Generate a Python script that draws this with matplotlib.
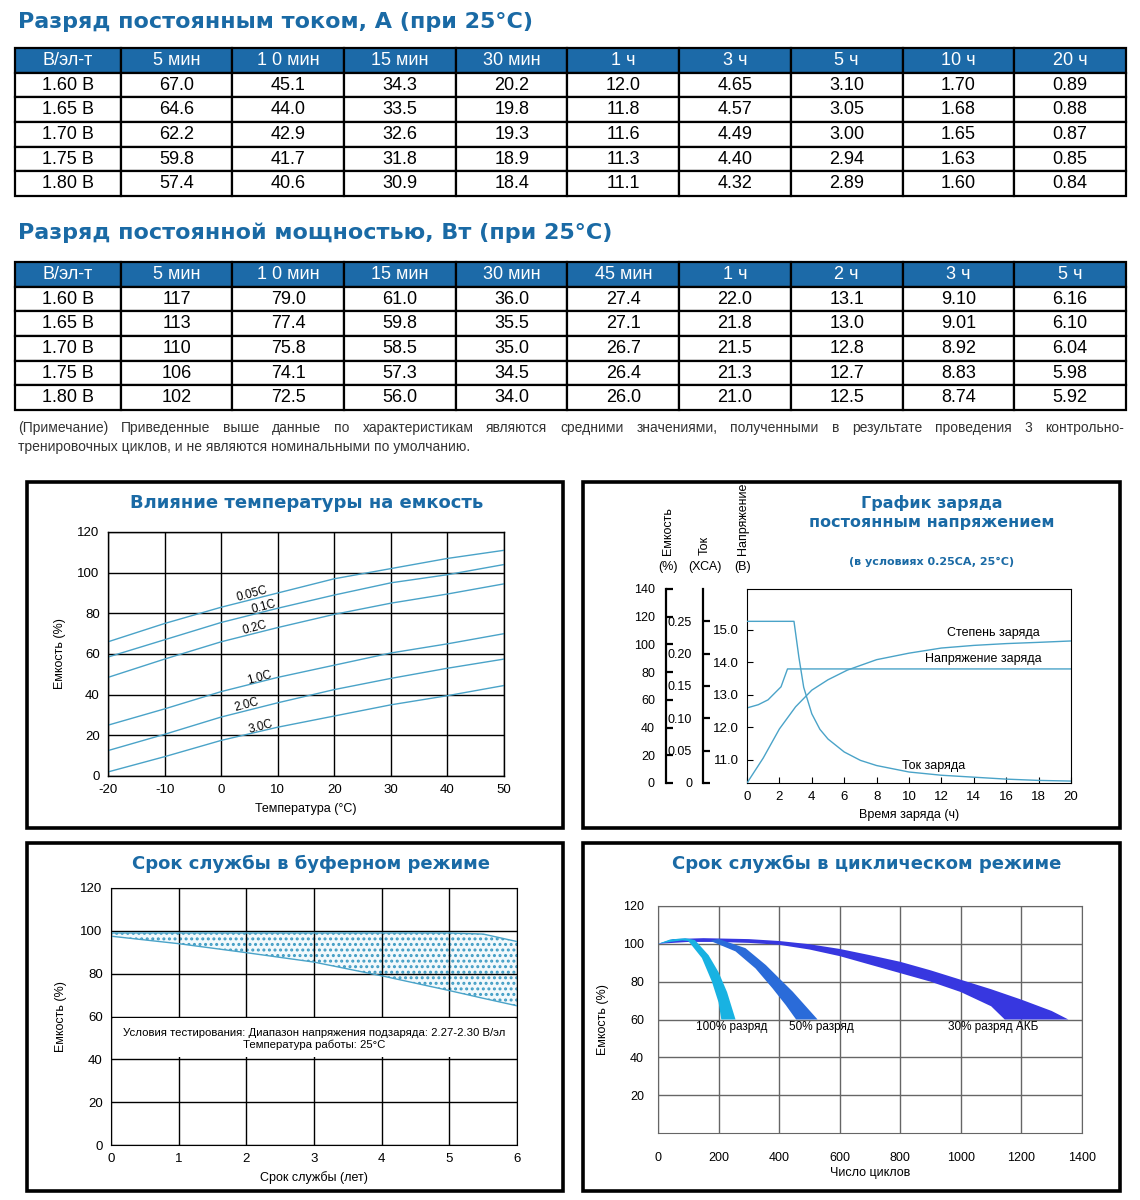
import numpy as np
import matplotlib
matplotlib.use("Agg")
import matplotlib.pyplot as plt
from matplotlib.patches import Rectangle

plt.rcParams['font.family'] = ['Liberation Sans', 'DejaVu Sans']
plt.rcParams['axes.unicode_minus'] = False
plt.rcParams['hatch.linewidth'] = 1.4

W, H = 1140, 1200
TITLE_BLUE = '#1a6aa5'
HEAD_BLUE = '#1c6aa8'
LINE_BLUE = '#4aa3c8'
HEAVY = dict(family=['DejaVu Sans'], fontweight='bold', color=TITLE_BLUE)

# ---------------- table data ----------------
volt_rows = ['1.60 В', '1.65 В', '1.70 В', '1.75 В', '1.80 В']

cur_cols = ['В/эл-т', '5 мин', '1 0 мин', '15 мин', '30 мин', '1 ч', '3 ч', '5 ч', '10 ч', '20 ч']
cur_5m = ['67.0', '64.6', '62.2', '59.8', '57.4']
cur_10m = ['45.1', '44.0', '42.9', '41.7', '40.6']
cur_15m = ['34.3', '33.5', '32.6', '31.8', '30.9']
cur_30m = ['20.2', '19.8', '19.3', '18.9', '18.4']
cur_1h = ['12.0', '11.8', '11.6', '11.3', '11.1']
cur_3h = ['4.65', '4.57', '4.49', '4.40', '4.32']
cur_5h = ['3.10', '3.05', '3.00', '2.94', '2.89']
cur_10h = ['1.70', '1.68', '1.65', '1.63', '1.60']
cur_20h = ['0.89', '0.88', '0.87', '0.85', '0.84']

pow_cols = ['В/эл-т', '5 мин', '1 0 мин', '15 мин', '30 мин', '45 мин', '1 ч', '2 ч', '3 ч', '5 ч']
pow_5m = ['117', '113', '110', '106', '102']
pow_10m = ['79.0', '77.4', '75.8', '74.1', '72.5']
pow_15m = ['61.0', '59.8', '58.5', '57.3', '56.0']
pow_30m = ['36.0', '35.5', '35.0', '34.5', '34.0']
pow_45m = ['27.4', '27.1', '26.7', '26.4', '26.0']
pow_1h = ['22.0', '21.8', '21.5', '21.3', '21.0']
pow_2h = ['13.1', '13.0', '12.8', '12.7', '12.5']
pow_3h = ['9.10', '9.01', '8.92', '8.83', '8.74']
pow_5h = ['6.16', '6.10', '6.04', '5.98', '5.92']

note_line1 = ('(Примечание) Приведенные выше данные по характеристикам являются средними '
              'значениями, полученными в результате проведения 3 контрольно-')
note_line2 = 'тренировочных циклов, и не являются номинальными по умолчанию.'

# ---------------- temperature vs capacity ----------------
temp = [-20, -10, 0, 10, 20, 30, 40, 50]
cap_005c = [66, 75, 83, 90, 97, 102, 107, 111]
cap_01c = [58.5, 67, 75.5, 82.5, 89, 95, 99, 104]
cap_02c = [48.5, 57.5, 66, 73, 79.5, 85, 89.5, 94.5]
cap_1c = [25, 33, 41.5, 48.5, 54.5, 60.5, 65, 70]
cap_2c = [12.5, 20.5, 29, 36, 42.5, 48, 53, 57.5]
cap_3c = [2, 9.5, 17.5, 24, 29.5, 35, 39.5, 44.5]
rate_labels = ['0.05C', '0.1C', '0.2C', '1.0C', '2.0C', '3.0C']
rate_lab_x = [5.5, 7.6, 6.0, 6.7, 4.6, 7.0]
rate_lab_y = [89.5, 83.0, 72.8, 48.2, 35.0, 24.1]

# ---------------- constant voltage charge ----------------
t_cur = [0, 2.9, 3.2, 3.5, 4, 4.5, 5, 6, 7, 8, 10, 12, 14, 16, 18, 20]
i_cur = [0.25, 0.25, 0.195, 0.148, 0.107, 0.083, 0.068, 0.048, 0.035, 0.027, 0.017, 0.012, 0.009, 0.006, 0.004, 0.003]
t_volt = [0, 0.7, 1.3, 2.1, 2.5, 20]
v_volt = [12.6, 12.7, 12.85, 13.25, 13.8, 13.8]
t_soc = [0, 1, 2, 3, 4, 5, 6.2, 8, 10, 12, 14, 16, 18, 20]
soc = [0, 18, 39, 55, 67, 74.5, 81.5, 89, 93.7, 97.4, 99.3, 100.6, 101.5, 102.5]

# ---------------- float service life ----------------
life_years = [0, 1, 2, 3, 4, 5, 5.5, 6]
life_low = [97.5, 94, 89.8, 85.4, 79, 72.1, 68.5, 65]
life_high = [99, 99, 99, 99, 99, 99, 98.5, 95]

# ---------------- cycle service life ----------------
d30_out_x = [0, 50, 150, 300, 400, 500, 600, 700, 800, 900, 1000, 1100, 1200, 1300, 1355]
d30_out_y = [100, 102.5, 103, 102.5, 101.5, 99.8, 97.3, 94, 90.5, 86, 81, 76, 70.5, 64.5, 60]
d30_in_x = [0, 100, 200, 300, 400, 500, 600, 700, 800, 900, 1000, 1100, 1145]
d30_in_y = [100, 101, 101, 100.5, 99.5, 97, 93.5, 89, 84.5, 80, 74.5, 67, 60]
d50_out_x = [170, 200, 289, 356, 400, 445, 527]
d50_out_y = [101.5, 102.6, 97.7, 88.8, 81.8, 74.7, 60]
d50_in_x = [170, 178, 256, 322, 378, 422, 456]
d50_in_y = [101.5, 101.2, 96, 87, 76.5, 67.6, 60]
d100_out_x = [0, 40, 90, 122, 167, 200, 228, 256]
d100_out_y = [100, 102.3, 103, 102, 94, 85, 74.5, 60]
d100_in_x = [0, 40, 80, 100, 145, 178, 200, 209]
d100_in_y = [100, 101, 101.8, 101.5, 92.5, 80, 69, 60]
cyc_labels = ['100% разряд', '50% разряд', '30% разряд АКБ']
cyc_lab_x = [125, 434, 958]


def px_box(l, t, r, b):
    return [l / W, 1 - b / H, (r - l) / W, (b - t) / H]


def fig_text(x, y, s, **kw):
    return fig.text(x / W, 1 - y / H, s, **kw)


fig = plt.figure(figsize=(W / 100, H / 100), dpi=100)


def draw_table(box, cols, data):
    ax = fig.add_axes(px_box(*box))
    ax.axis('off')
    cells = [[volt_rows[i]] + [col[i] for col in data] for i in range(len(volt_rows))]
    widths = np.array([105] + [111] * (len(cols) - 1), dtype=float)
    tb = ax.table(cellText=cells, colLabels=cols, colWidths=list(widths / widths.sum()),
                  cellLoc='center', bbox=[0, 0, 1, 1])
    tb.auto_set_font_size(False)
    for (r, c), cell in tb.get_celld().items():
        cell.set_linewidth(1.6)
        cell.set_edgecolor('black')
        txt = cell.get_text()
        txt.set_fontsize(13)
        if r == 0:
            cell.set_facecolor(HEAD_BLUE)
            txt.set_color('white')
    return ax


# titles + tables
fig_text(18, 22, 'Разряд постоянным током, А (при 25°C)', fontsize=16, va='center', **HEAVY)
draw_table((15, 48, 1126, 196), cur_cols,
           [cur_5m, cur_10m, cur_15m, cur_30m, cur_1h, cur_3h, cur_5h, cur_10h, cur_20h])
fig_text(18, 233, 'Разряд постоянной мощностью, Вт (при 25°C)', fontsize=16, va='center', **HEAVY)
draw_table((15, 262, 1126, 410), pow_cols,
           [pow_5m, pow_10m, pow_15m, pow_30m, pow_45m, pow_1h, pow_2h, pow_3h, pow_5h])

# justified note, first line
renderer = fig.canvas.get_renderer()
words = note_line1.split(' ')
word_txt = [fig.text(0, 0, w, fontsize=10, color='#333333', va='center') for w in words]
wsum = sum(t.get_window_extent(renderer).width for t in word_txt)
gap = (1124 - 18 - wsum) / (len(words) - 1)
xpos = 18
for t in word_txt:
    t.set_position((xpos / W, 1 - 428 / H))
    xpos += t.get_window_extent(renderer).width + gap
fig_text(18, 447, note_line2, fontsize=10, color='#333333', va='center')

# panel frames
for (l, t, r, b) in [(27, 482, 563, 828), (583, 482, 1120, 828), (27, 843, 563, 1191), (583, 843, 1120, 1191)]:
    fig.add_artist(Rectangle((l / W, 1 - b / H), (r - l) / W, (b - t) / H, transform=fig.transFigure,
                             fill=False, edgecolor='black', linewidth=2.6))

TICK_FS = 9.5

# ---------- panel 1: temperature ----------
ax1 = fig.add_axes(px_box(108, 532, 504, 776))
for ys in [cap_005c, cap_01c, cap_02c, cap_1c, cap_2c, cap_3c]:
    ax1.plot(temp, ys, color=LINE_BLUE, lw=1.0)
for s, x, y in zip(rate_labels, rate_lab_x, rate_lab_y):
    ax1.text(x, y, s, fontsize=8.5, rotation=15, ha='center', va='center')
ax1.set_xlim(-20, 50)
ax1.set_ylim(0, 120)
ax1.set_xticks(np.arange(-20, 51, 10))
ax1.set_yticks(np.arange(0, 121, 20))
ax1.grid(True, color='black', lw=1.0)
ax1.tick_params(length=0, labelsize=TICK_FS, pad=6)
for sp in ax1.spines.values():
    sp.set_linewidth(1.0)
ax1.set_xlabel('Температура (°C)', fontsize=9, labelpad=5)
ax1.set_ylabel('Емкость (%)', fontsize=9, labelpad=8)
fig_text(307, 503, 'Влияние температуры на емкость', fontsize=13, ha='center', va='center', **HEAVY)

# ---------- panel 2: charge ----------
ax2 = fig.add_axes(px_box(747, 589, 1071, 783))
ax2.plot(t_volt, v_volt, color=LINE_BLUE, lw=1.0)
ax2.set_xlim(0, 20)
ax2.set_ylim(10.29, 16.26)
ax2.set_xticks(np.arange(0, 21, 2))
ax2.set_yticks([11, 12, 13, 14, 15])
ax2.set_yticklabels(['11.0', '12.0', '13.0', '14.0', '15.0'])
ax2.tick_params(direction='in', length=4, labelsize=TICK_FS, pad=6)
ax2.set_xlabel('Время заряда (ч)', fontsize=9, labelpad=4)
ax2.text(15.2, 14.92, 'Степень заряда', fontsize=9, ha='center', va='center')
ax2.text(14.6, 14.12, 'Напряжение заряда', fontsize=9, ha='center', va='center')
ax2.text(11.5, 10.8, 'Ток заряда', fontsize=9, ha='center', va='center')

ax2c = ax2.twinx()
ax2c.plot(t_soc, soc, color=LINE_BLUE, lw=1.0)
ax2c.set_ylim(0, 140)
ax2c.set_yticks(np.arange(0, 141, 20))
ax2i = ax2.twinx()
ax2i.plot(t_cur, i_cur, color=LINE_BLUE, lw=1.0)
ax2i.set_ylim(0, 0.30)
ax2i.set_yticks([0, 0.05, 0.10, 0.15, 0.20, 0.25])
ax2i.set_yticklabels(['0', '0.05', '0.10', '0.15', '0.20', '0.25'])
for axx, off in [(ax2c, -0.25), (ax2i, -0.135)]:
    for k in ['top', 'bottom', 'right']:
        axx.spines[k].set_visible(False)
    axx.spines['left'].set_visible(True)
    axx.spines['left'].set_position(('axes', off))
    axx.spines['left'].set_linewidth(1.6)
    axx.yaxis.set_ticks_position('left')
    axx.yaxis.set_label_position('left')
    axx.tick_params(axis='y', direction='in', length=5, width=1.6, labelsize=TICK_FS - 0.5, pad=8)

for x, word, unit in [(668, 'Емкость', '(%)'), (705, 'Ток', '(ХСА)'), (743, 'Напряжение', '(В)')]:
    fig_text(x, 555, word, fontsize=9, rotation=90, ha='center', va='bottom')
    fig_text(x, 567, unit, fontsize=9, ha='center', va='center')
fig_text(932, 503, 'График заряда', fontsize=11.5, ha='center', va='center', **HEAVY)
fig_text(932, 523, 'постоянным напряжением', fontsize=11.5, ha='center', va='center', **HEAVY)
fig_text(932, 562, '(в условиях 0.25CA, 25°C)', fontsize=8, ha='center', va='center', **HEAVY)

# ---------- panel 3: float life ----------
ax3 = fig.add_axes(px_box(111, 888, 517, 1145))
ax3.fill_between(life_years, life_low, life_high, facecolor='#f2f9fc', edgecolor='#3f9cc4',
                 hatch='...', linewidth=0)
ax3.plot(life_years, life_low, color=LINE_BLUE, lw=1.0)
ax3.plot(life_years, life_high, color=LINE_BLUE, lw=1.0)
ax3.set_xlim(0, 6)
ax3.set_ylim(0, 120)
ax3.set_xticks(np.arange(0, 7, 1))
ax3.set_yticks(np.arange(0, 121, 20))
ax3.grid(True, color='black', lw=1.0)
ax3.tick_params(length=0, labelsize=TICK_FS, pad=6)
ax3.add_patch(Rectangle((0.03, 41), 5.94, 18.5, facecolor='white', edgecolor='none', zorder=3))
ax3.text(3.0, 52.5, 'Условия тестирования: Диапазон напряжения подзаряда: 2.27-2.30 В/эл',
         fontsize=8.2, ha='center', va='center', zorder=4)
ax3.text(3.0, 47.0, 'Температура работы: 25°C', fontsize=8.2, ha='center', va='center', zorder=4)
ax3.set_xlabel('Срок службы (лет)', fontsize=9, labelpad=4)
ax3.set_ylabel('Емкость (%)', fontsize=9, labelpad=10)
fig_text(311, 864, 'Срок службы в буферном режиме', fontsize=13, ha='center', va='center', **HEAVY)

# ---------- panel 4: cycle life ----------
ax4 = fig.add_axes(px_box(658, 906, 1082, 1133))
for ox, oy, ix, iy, col in [(d30_out_x, d30_out_y, d30_in_x, d30_in_y, '#3737e0'),
                            (d50_out_x, d50_out_y, d50_in_x, d50_in_y, '#2a6bd9'),
                            (d100_out_x, d100_out_y, d100_in_x, d100_in_y, '#18b2e2')]:
    ax4.fill(np.concatenate([ox, ix[::-1]]), np.concatenate([oy, iy[::-1]]), color=col, lw=0, zorder=3)
for s, x in zip(cyc_labels, cyc_lab_x):
    ax4.text(x, 56, s, fontsize=8.5, ha='left', va='center', zorder=4)
ax4.set_xlim(0, 1400)
ax4.set_ylim(0, 120)
ax4.set_xticks(np.arange(0, 1401, 200))
ax4.set_yticks(np.arange(20, 121, 20))
ax4.grid(True, color='#666666', lw=1.0)
ax4.tick_params(length=0, labelsize=TICK_FS - 0.5)
ax4.tick_params(axis='x', pad=14)
ax4.tick_params(axis='y', pad=10)
for sp in ax4.spines.values():
    sp.set_color('#666666')
ax4.set_xlabel('Число циклов', fontsize=9, labelpad=2)
ax4.set_ylabel('Емкость (%)', fontsize=9, labelpad=10)
fig_text(867, 864, 'Срок службы в циклическом режиме', fontsize=13, ha='center', va='center', **HEAVY)

fig.savefig('out.png', dpi=100)
